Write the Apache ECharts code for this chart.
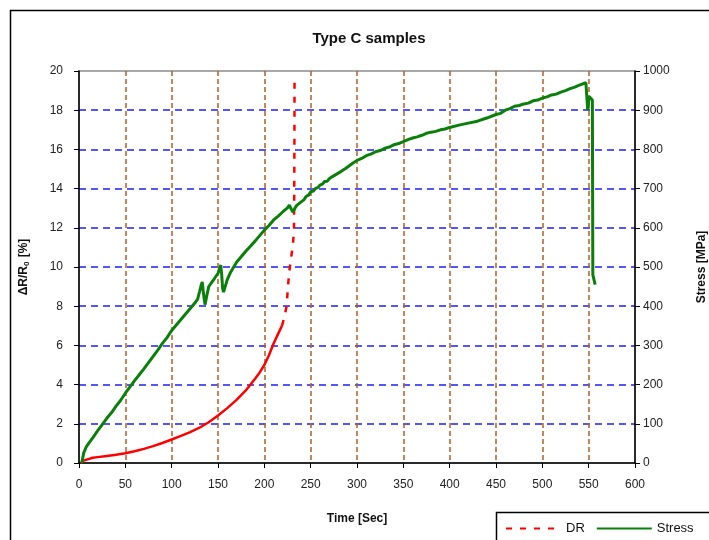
<!DOCTYPE html>
<html>
<head>
<meta charset="utf-8">
<script src="https://cdn.jsdelivr.net/npm/echarts@6/dist/echarts.min.js"></script>
<style>
  html, body { margin: 0; padding: 0; background: #fff; }
  #chart { width: 709px; height: 540px; }
</style>
</head>
<body>
<div id="chart"></div>
<script>
// Resistance change ΔR/R0 [%] against time [s]
const drTime = [2, 5, 10, 15, 20, 30, 40, 50, 60, 70, 80, 90, 100, 110, 120, 130, 140, 150, 160, 170, 180, 190, 195, 200, 205, 210, 215, 219, 222, 224, 225.5, 227, 229, 231, 232, 232.3, 232.5, 232.6];
const drValue = [0, 0.12, 0.2, 0.27, 0.3, 0.36, 0.42, 0.5, 0.6, 0.72, 0.86, 1.02, 1.2, 1.38, 1.58, 1.8, 2.08, 2.42, 2.8, 3.22, 3.7, 4.3, 4.62, 5.0, 5.5, 6.1, 6.6, 7.0, 7.5, 8.0, 9.0, 9.8, 10.5, 11.2, 12, 14, 17, 19.6];
// point from which the DR trace is drawn with visible dashes
const DR_DASH_FROM = 28;

// Stress [MPa] against time [s]
const stressTime = [
  3, 5, 8, 11, 15, 20, 25, 30, 35, 40,
  45, 50, 55, 60, 65, 70, 75, 80, 85, 90,
  95, 100, 105, 110, 115, 120, 125, 128, 130, 132,
  133, 134, 135, 136, 138, 140, 143, 146, 150, 152,
  153, 154, 155, 156, 158, 160, 163, 166, 170, 175,
  180, 185, 190, 195, 200, 205, 210, 215, 220, 225,
  227, 229, 231, 233, 235, 238, 240, 243, 245, 248,
  250, 253, 255, 258, 260, 263, 265, 268, 270, 273,
  275, 278, 280, 283, 285, 288, 290, 295, 300, 305,
  310, 315, 320, 325, 330, 335, 340, 345, 350, 355,
  360, 365, 370, 375, 380, 385, 390, 395, 400, 410,
  420, 430, 440, 450, 455, 460, 465, 470, 475, 480,
  485, 490, 495, 500, 505, 510, 515, 520, 525, 530,
  535, 540, 547, 548.5, 549, 550.5, 552, 554, 554.5, 557
];
const stressValue = [
  0, 25, 42, 52, 65, 82, 98, 114, 128, 145,
  160, 178, 194, 210, 225, 240, 256, 272, 288, 305,
  320, 338, 352, 366, 380, 394, 408, 418, 436, 455,
  462, 440, 420, 404, 428, 450, 460, 470, 484, 498,
  505, 480, 445, 436, 452, 468, 484, 496, 512, 526,
  540, 553, 566, 580, 594, 606, 620, 630, 641, 651,
  658, 648, 640, 650, 657, 663, 668, 672, 680, 684,
  692, 694, 700, 703, 709, 712, 718, 719, 725, 730,
  733, 737, 742, 744, 749, 752, 756, 764, 772, 777,
  784, 788, 794, 797, 803, 806, 812, 815, 820, 825,
  829, 832, 836, 841, 844, 846, 850, 852, 856, 862,
  867, 872, 880, 889, 892, 900, 904, 910, 912, 916,
  918, 924, 926, 931, 934, 939, 941, 946, 950, 955,
  959, 964, 970, 973, 900, 935, 930, 926, 480, 455
];

// Axis ranges
const timeMin = 0, timeMax = 600, timeStep = 50;
const drMin = 0, drMax = 20, drStep = 2;
const stressMin = 0, stressMax = 1000, stressStep = 100;

const FONT = '"Liberation Sans", Arial, sans-serif';

const drPairs = drTime.map((t, i) => [t, drValue[i]]);
const stressPairs = stressTime.map((t, i) => [t, stressValue[i]]);

const chart = echarts.init(document.getElementById('chart'), null, { renderer: 'canvas' });

chart.setOption({
  backgroundColor: '#ffffff',
  animation: false,
  textStyle: { fontFamily: FONT },
  title: {
    text: 'Type C samples',
    left: 364,
    textAlign: 'center',
    top: 26,
    textStyle: { fontFamily: FONT, fontSize: 15, fontWeight: 'bold', color: '#111' }
  },
  grid: {
    left: 79, right: 74, top: 71, bottom: 77,
    outerBoundsMode: 'none',
    show: true, borderColor: '#8c8c8c', borderWidth: 1.5, backgroundColor: '#fff'
  },
  legend: {
    left: 500, top: 517,
    itemWidth: 55, itemHeight: 12, itemGap: 11,
    itemStyle: { opacity: 0 },
    textStyle: { fontFamily: FONT, fontSize: 13, color: '#111' },
    data: ['DR', 'Stress']
  },
  xAxis: {
    type: 'value', min: timeMin, max: timeMax, interval: timeStep,
    name: 'Time [Sec]', nameLocation: 'middle', nameGap: 50,
    nameTextStyle: { fontFamily: FONT, fontSize: 12, fontWeight: 'bold', color: '#111' },
    axisLine: { show: true, lineStyle: { color: '#000', width: 1.5 } },
    axisTick: { show: true, length: 5, lineStyle: { color: '#000' } },
    axisLabel: { margin: 16, fontSize: 12, color: '#222', fontFamily: FONT },
    splitLine: {
      show: true, showMinLine: false, showMaxLine: false,
      lineStyle: { color: '#b0602a', width: 1.5, type: [5, 3] }
    }
  },
  yAxis: [
    {
      type: 'value', position: 'left', min: drMin, max: drMax, interval: drStep,
      name: '{a|ΔR/R}{s|0}{a| [%]}', nameLocation: 'middle', nameGap: 48, nameRotate: 90,
      nameTextStyle: {
        rich: {
          a: { fontFamily: FONT, fontSize: 12, fontWeight: 'bold', color: '#111' },
          s: { fontFamily: FONT, fontSize: 8, fontWeight: 'bold', color: '#111', padding: [6, 1, 0, 0] }
        }
      },
      axisLine: { show: true, lineStyle: { color: '#000', width: 1.5 } },
      axisTick: { show: true, length: 5, lineStyle: { color: '#000' } },
      axisLabel: { margin: 16, fontSize: 12, color: '#222', fontFamily: FONT },
      splitLine: {
        show: true, showMinLine: false, showMaxLine: false,
        lineStyle: { color: '#1f1ff5', width: 1.5, type: [7, 5] }
      }
    },
    {
      type: 'value', position: 'right', min: stressMin, max: stressMax, interval: stressStep,
      name: 'Stress [MPa]', nameLocation: 'middle', nameGap: 61, nameRotate: 90,
      nameTextStyle: { fontFamily: FONT, fontSize: 12, fontWeight: 'bold', color: '#111' },
      axisLine: { show: true, lineStyle: { color: '#000', width: 1.5 } },
      axisTick: { show: true, length: 5, lineStyle: { color: '#000' } },
      axisLabel: { margin: 8, fontSize: 12, color: '#222', fontFamily: FONT, formatter: v => String(v) },
      splitLine: { show: false }
    }
  ],
  series: [
    {
      name: 'DR', type: 'line', yAxisIndex: 0, symbol: 'none',
      data: drPairs.slice(DR_DASH_FROM - 1),
      lineStyle: { color: '#ff0000', width: 2.5, type: [6, 8] },
      itemStyle: { color: '#ff0000' }, z: 3
    },
    {
      name: 'DR', type: 'line', yAxisIndex: 0, symbol: 'none',
      data: drPairs.slice(0, DR_DASH_FROM),
      lineStyle: { color: '#ff0000', width: 2.5 },
      itemStyle: { color: '#ff0000' }, z: 3
    },
    {
      name: 'Stress', type: 'line', yAxisIndex: 1, symbol: 'none',
      data: stressPairs,
      lineStyle: { color: '#0a800a', width: 3 },
      itemStyle: { color: '#0a800a' }, z: 4
    }
  ],
  graphic: [
    {
      type: 'rect', silent: true, z: -1,
      shape: { x: 10.5, y: 10.5, width: 800, height: 600 },
      style: { fill: 'transparent', stroke: '#000', lineWidth: 1.5 }
    },
    {
      type: 'rect', silent: true, z: 10,
      shape: { x: 496.5, y: 512.5, width: 300, height: 100 },
      style: { fill: 'transparent', stroke: '#000', lineWidth: 1.5 }
    }
  ]
});
</script>
</body>
</html>
